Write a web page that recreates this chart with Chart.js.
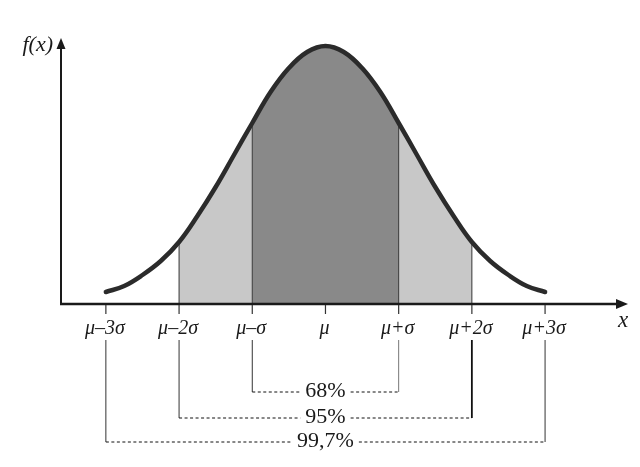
<!DOCTYPE html>
<html>
<head>
<meta charset="utf-8">
<script src="https://cdn.jsdelivr.net/npm/chart.js@4.4.1/dist/chart.umd.min.js"></script>
<style>
html, body { margin: 0; padding: 0; background: #fff; }
</style>
</head>
<body>
<canvas id="normChart" width="640" height="467"></canvas>
<script>
// x in units of sigma, mu = 0
const curveX = [-3, -2.75, -2.5, -2.25, -2, -1.75, -1.5, -1.25, -1, -0.75, -0.5, -0.25, 0,
                0.25, 0.5, 0.75, 1, 1.25, 1.5, 1.75, 2, 2.25, 2.5, 2.75, 3];
// curve height (pixels above the x axis)
const curveY = [12, 18, 29, 43, 62, 88, 117, 149, 181, 212, 236, 252, 258,
                252, 236, 212, 181, 149, 117, 88, 62, 43, 29, 18, 12];
const tickValues = [-3, -2, -1, 0, 1, 2, 3];
const tickLabels = ['μ–3σ', 'μ–2σ', 'μ–σ', 'μ', 'μ+σ', 'μ+2σ', 'μ+3σ'];
const bandFrom = [-1, -2, -3];
const bandTo = [1, 2, 3];
const bandLabels = ['68%', '95%', '99,7%'];

const pts = (from, to) => curveX
    .map((x, i) => ({x: x, y: curveY[i]}))
    .filter(p => p.x >= from && p.x <= to);
const heightAt = (x) => curveY[curveX.indexOf(x)];
const vline = (x) => ({
    data: [{x: x, y: 0}, {x: x, y: heightAt(x)}],
    borderColor: '#333', borderWidth: 1, pointRadius: 0, fill: false, order: 2
});

const DARK = '#898989';
const LIGHT = '#c8c8c8';

const diagram = {
    id: 'diagram',
    afterDraw(chart) {
        const ctx = chart.ctx;
        const xs = chart.scales.x, ys = chart.scales.y;
        const area = chart.chartArea;
        const y0 = ys.getPixelForValue(0);
        ctx.save();
        ctx.strokeStyle = '#1a1a1a';
        ctx.fillStyle = '#1a1a1a';
        ctx.lineWidth = 2;
        // y axis
        ctx.beginPath();
        ctx.moveTo(area.left, y0 + 1);
        ctx.lineTo(area.left, area.top + 8);
        ctx.stroke();
        ctx.beginPath();
        ctx.moveTo(area.left, area.top);
        ctx.lineTo(area.left - 4.5, area.top + 11);
        ctx.lineTo(area.left + 4.5, area.top + 11);
        ctx.closePath();
        ctx.fill();
        // x axis
        ctx.lineWidth = 2.4;
        ctx.beginPath();
        ctx.moveTo(area.left - 1, y0);
        ctx.lineTo(area.right - 8, y0);
        ctx.stroke();
        ctx.beginPath();
        ctx.moveTo(area.right, y0);
        ctx.lineTo(area.right - 12, y0 - 5);
        ctx.lineTo(area.right - 12, y0 + 5);
        ctx.closePath();
        ctx.fill();

        // ticks and labels
        ctx.lineWidth = 1.2;
        ctx.strokeStyle = '#333';
        ctx.textAlign = 'center';
        ctx.textBaseline = 'middle';
        ctx.font = 'italic 20px "Liberation Serif"';
        tickValues.forEach((v, i) => {
            const px = xs.getPixelForValue(v);
            ctx.beginPath();
            ctx.moveTo(px, y0 + 1);
            ctx.lineTo(px, y0 + 10);
            ctx.stroke();
            ctx.fillText(tickLabels[i], px - 1, y0 + 25);
        });

        // axis names
        ctx.font = 'italic 22px "Liberation Serif"';
        ctx.textAlign = 'right';
        ctx.fillText('f(x)', area.left - 8, area.top + 7);
        ctx.textAlign = 'center';
        ctx.font = 'italic 23px "Liberation Serif"';
        ctx.fillText('x', area.right - 5, y0 + 17);

        // brackets
        const levels = [88, 114, 138];
        const mid = xs.getPixelForValue(0);
        ctx.font = '22px "Liberation Serif"';
        bandLabels.forEach((lab, i) => {
            const xl = xs.getPixelForValue(bandFrom[i]);
            const xr = xs.getPixelForValue(bandTo[i]);
            const yb = y0 + levels[i];
            ctx.setLineDash([]);
            ctx.strokeStyle = '#333';
            ctx.lineWidth = 1;
            ctx.beginPath();
            ctx.moveTo(xl, y0 + 36);
            ctx.lineTo(xl, yb);
            ctx.stroke();
            ctx.strokeStyle = i === 1 ? '#111' : (i === 0 ? '#777' : '#333');
            ctx.lineWidth = i === 1 ? 1.8 : 1;
            ctx.beginPath();
            ctx.moveTo(xr, y0 + 36);
            ctx.lineTo(xr, yb);
            ctx.stroke();
            const w = ctx.measureText(lab).width;
            ctx.strokeStyle = '#111';
            ctx.lineWidth = 1;
            ctx.setLineDash([3, 2.5]);
            ctx.beginPath();
            ctx.moveTo(xl, yb);
            ctx.lineTo(mid - w / 2 - 5, yb);
            ctx.moveTo(mid + w / 2 + 5, yb);
            ctx.lineTo(xr, yb);
            ctx.stroke();
            ctx.fillText(lab, mid, yb - 1);
        });
        ctx.restore();
    }
};

new Chart(document.getElementById('normChart').getContext('2d'), {
    type: 'line',
    data: {
        datasets: [
            {data: pts(-1, 1), backgroundColor: DARK, borderWidth: 0, fill: 'origin', tension: 0.4, pointRadius: 0, order: 3},
            {data: pts(-2, -1), backgroundColor: LIGHT, borderWidth: 0, fill: 'origin', tension: 0.4, pointRadius: 0, order: 3},
            {data: pts(1, 2), backgroundColor: LIGHT, borderWidth: 0, fill: 'origin', tension: 0.4, pointRadius: 0, order: 3},
            vline(-2), vline(-1), vline(1), vline(2),
            {data: pts(-3, 3), borderColor: '#2b2b2b', borderWidth: 4.5, borderCapStyle: 'round',
             fill: false, tension: 0.4, pointRadius: 0, order: 1}
        ]
    },
    options: {
        responsive: false,
        animation: false,
        devicePixelRatio: 1,
        layout: {padding: {left: 61, right: 12, top: 38, bottom: 163}},
        scales: {
            x: {type: 'linear', min: -3.613, max: 4.133, display: false},
            y: {min: 0, max: 266, display: false}
        },
        plugins: {legend: {display: false}, tooltip: {enabled: false}}
    },
    plugins: [diagram]
});
</script>
</body>
</html>
